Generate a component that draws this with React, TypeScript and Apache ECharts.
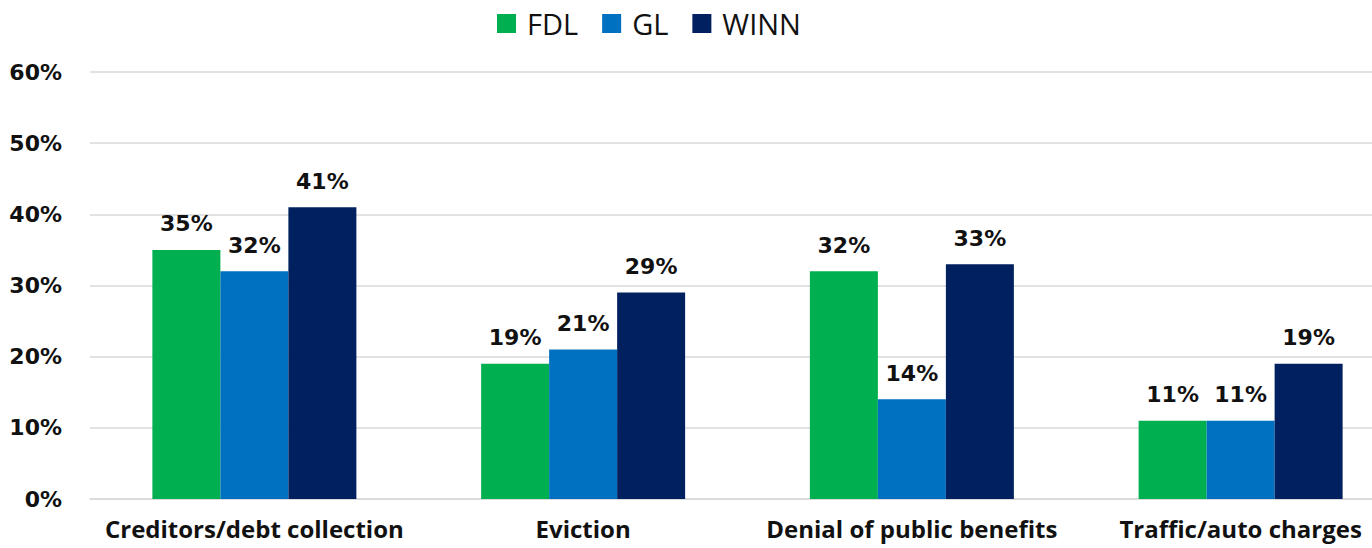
import React, { useEffect, useRef } from "react";
import * as echarts from "echarts";

const categories = [
  "Creditors/debt collection",
  "Eviction",
  "Denial of public benefits",
  "Traffic/auto charges",
];
const fdl = [35, 19, 32, 11];
const gl = [32, 21, 14, 11];
const winn = [41, 29, 33, 19];
const yTicks = [0, 10, 20, 30, 40, 50, 60];

const COLORS = { FDL: "#00B050", GL: "#0070C0", WINN: "#002060" };
const NUM_FONT = "'DejaVu Sans', Verdana, sans-serif";
const TXT_FONT = "'Open Sans', 'Noto Sans', sans-serif";

export default function App() {
  const ref = useRef<HTMLDivElement>(null);

  useEffect(() => {
    if (!ref.current) return;
    const chart = echarts.init(ref.current, null, { renderer: "svg" });

    const valueLabel = {
      show: true,
      position: "top",
      distance: 15,
      formatter: "{c}%",
      fontFamily: NUM_FONT,
      fontWeight: "bold",
      fontSize: 22,
      color: "#111",
    };

    const mk = (name: string, data: number[]) => ({
      name,
      type: "bar",
      data,
      barWidth: 68,
      barGap: "0%",
      itemStyle: { color: (COLORS as any)[name] },
      label: valueLabel,
    });

    chart.setOption({
      animation: false,
      backgroundColor: "#ffffff",
      legend: {
        left: 497,
        top: 9,
        padding: 0,
        itemWidth: 19,
        itemHeight: 19,
        itemGap: 24,
        icon: "rect",
        textStyle: {
          fontFamily: TXT_FONT,
          fontSize: 29,
          color: "#111",
          padding: [0, 0, 0, 6],
        },
        data: ["FDL", "GL", "WINN"],
      },
      grid: {
        left: 90,
        top: 72,
        width: 1315,
        height: 427,
        outerBoundsMode: "none",
      },
      xAxis: {
        type: "category",
        data: categories,
        axisLine: { show: true, lineStyle: { color: "#d9d9d9", width: 1.5 } },
        axisTick: { show: false },
        axisLabel: {
          interval: 0,
          margin: 17,
          fontFamily: TXT_FONT,
          fontWeight: "bold",
          fontSize: 24,
          lineHeight: 24,
          color: "#111",
        },
      },
      yAxis: {
        type: "value",
        min: yTicks[0],
        max: yTicks[yTicks.length - 1],
        interval: 10,
        axisLine: { show: false },
        axisTick: { show: false },
        splitLine: { lineStyle: { color: "#d9d9d9", width: 1.5 } },
        axisLabel: {
          formatter: "{value}%",
          margin: 28,
          fontFamily: NUM_FONT,
          fontWeight: "bold",
          fontSize: 22,
          color: "#111",
        },
      },
      series: [mk("FDL", fdl), mk("GL", gl), mk("WINN", winn)],
    });

    return () => chart.dispose();
  }, []);

  return (
    <div
      ref={ref}
      style={{ position: "fixed", left: 0, top: 0, width: 1372, height: 548 }}
    />
  );
}
